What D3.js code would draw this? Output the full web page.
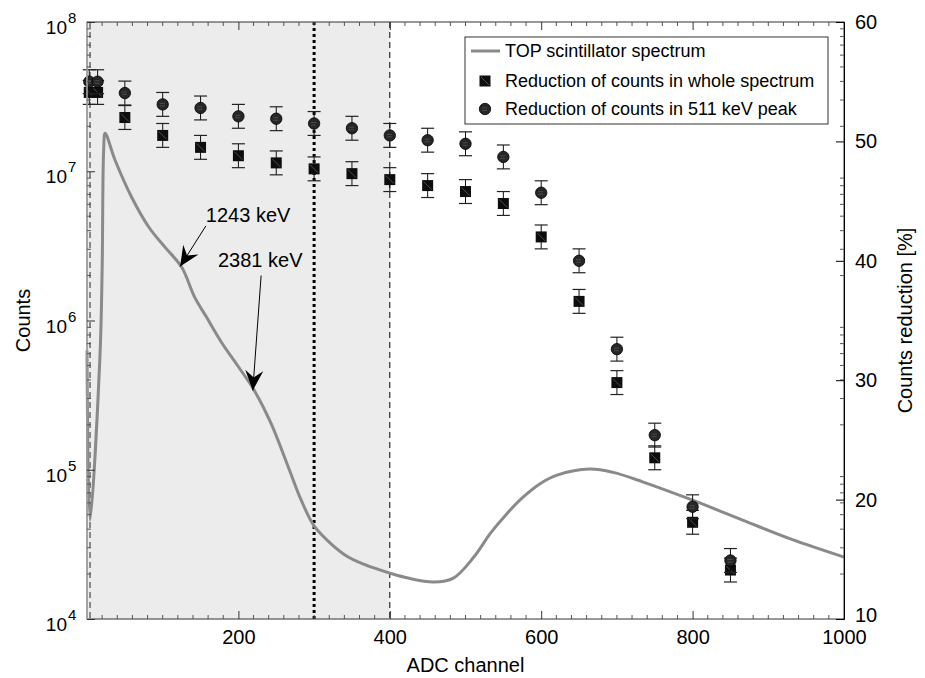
<!DOCTYPE html>
<html>
<head>
<meta charset="utf-8">
<script src="https://cdn.jsdelivr.net/npm/d3@7"></script>
<style>
  body { margin: 0; background: #fff; }
  svg { display: block; font-family: "Liberation Sans", Arial, sans-serif; }
</style>
</head>
<body>
<svg id="chart"></svg>
<script>
// TOP scintillator spectrum (ADC channel, counts)
const spectrumChannel = [0, 4, 17, 20, 22, 24, 37, 59, 82, 103, 125, 142, 158, 178, 200, 221, 243, 266, 283, 300,
    322, 345, 362, 379, 400, 424, 458, 484, 511, 533, 555, 576, 599, 621, 664, 695, 734, 800, 866, 932, 1000];
const spectrumCounts = [6.3e5, 4.6e4, 5.6e5, 2.2e6, 1.38e7, 1.8e7, 1.19e7, 6.7e6, 4.2e6, 3.1e6, 2.28e6, 1.44e6, 1.05e6,
    7.1e5, 4.9e5, 3.4e5, 2.05e5, 1.04e5, 6.25e4, 4.2e4, 3.2e4, 2.6e4, 2.37e4, 2.2e4, 2.03e4, 1.88e4, 1.77e4, 1.88e4,
    2.6e4, 3.76e4, 5.1e4, 6.55e4, 8.1e4, 9.2e4, 1.01e5, 9.6e4, 8.3e4, 6.25e4, 4.6e4, 3.4e4, 2.6e4];

// counts reduction [%] vs threshold channel
const thresholdChannel = [3, 14, 50, 100, 150, 200, 250, 300, 350, 400, 450, 500, 550, 600, 650, 700, 750, 800, 850];
const wholeReduction = [54.1, 54.1, 52.0, 50.5, 49.5, 48.8, 48.2, 47.7, 47.3, 46.8, 46.3, 45.8, 44.8, 42.0, 36.6, 29.8, 23.5, 18.1, 14.1];
const peakReduction = [55.0, 55.0, 54.05, 53.1, 52.8, 52.1, 51.9, 51.5, 51.1, 50.5, 50.1, 49.8, 48.7, 45.7, 40.0, 32.6, 25.4, 19.4, 14.9];
const reductionError = 1.0;

const xTicks = [200, 400, 600, 800, 1000];
const leftTicks = [1e4, 1e5, 1e6, 1e7, 1e8];
const rightTicks = [10, 20, 30, 40, 50, 60];
const legendLabels = ["TOP scintillator spectrum", "Reduction of counts in whole spectrum", "Reduction of counts in 511 keV peak"];

const W = 925, H = 678;
const pLeft = 87, pRight = 844, pTop = 22, pBottom = 619;
const font = 20;

const svg = d3.select("#chart").attr("width", W).attr("height", H);

const x = d3.scaleLinear().domain([0, 1000]).range([pLeft, pRight]);
const yL = d3.scaleLog().domain([1e4, 1e8]).range([pBottom, pTop]);
const yR = d3.scaleLinear().domain([10, 60]).range([pBottom, pTop]);

// shaded region and marker lines
svg.append("rect")
    .attr("x", x(0)).attr("y", pTop)
    .attr("width", x(400) - x(0)).attr("height", pBottom - pTop)
    .attr("fill", "#ececec");

svg.append("line")
    .attr("x1", x(4)).attr("x2", x(4)).attr("y1", pTop).attr("y2", pBottom)
    .attr("stroke", "#6a6a6a").attr("stroke-width", 1.5).attr("stroke-dasharray", "6,4");
svg.append("line")
    .attr("x1", x(400)).attr("x2", x(400)).attr("y1", pTop).attr("y2", pBottom)
    .attr("stroke", "#000").attr("stroke-width", 1).attr("stroke-dasharray", "6,4");
svg.append("line")
    .attr("x1", x(300)).attr("x2", x(300)).attr("y1", pTop).attr("y2", pBottom)
    .attr("stroke", "#000").attr("stroke-width", 3).attr("stroke-dasharray", "3,3");

// spectrum curve
const spectrum = spectrumChannel.map((c, i) => ({ c, v: spectrumCounts[i] }));
svg.append("path")
    .datum(spectrum)
    .attr("fill", "none")
    .attr("stroke", "#8a8a8a")
    .attr("stroke-width", 3)
    .attr("stroke-linejoin", "round")
    .attr("d", d3.line().x(d => x(d.c)).y(d => yL(d.v)).curve(d3.curveCatmullRom.alpha(0.5)));

// error bars + markers
function drawMarker(g, shape, cx, cy) {
    if (shape === "square") {
        g.append("rect").attr("x", cx - 5.5).attr("y", cy - 5.5).attr("width", 11).attr("height", 11)
            .attr("fill", "#0d0d0d");
        g.append("line").attr("x1", cx - 4).attr("y1", cy - 4).attr("x2", cx + 4).attr("y2", cy + 4)
            .attr("stroke", "#777").attr("stroke-width", 0.6);
    } else {
        g.append("circle").attr("cx", cx).attr("cy", cy).attr("r", 5.7)
            .attr("fill", "#262626").attr("stroke", "#000").attr("stroke-width", 0.8);
        g.append("line").attr("x1", cx - 3).attr("y1", cy - 1).attr("x2", cx + 2).attr("y2", cy - 1)
            .attr("stroke", "#666").attr("stroke-width", 0.6);
        g.append("line").attr("x1", cx - 3).attr("y1", cy + 1.5).attr("x2", cx + 2).attr("y2", cy + 1.5)
            .attr("stroke", "#666").attr("stroke-width", 0.6);
    }
}

function drawSeries(values, shape) {
    const g = svg.append("g");
    thresholdChannel.forEach((c, i) => {
        const cx = x(c), v = values[i];
        const y0 = yR(v - reductionError), y1 = yR(v + reductionError);
        g.append("line").attr("x1", cx).attr("x2", cx).attr("y1", y0).attr("y2", y1)
            .attr("stroke", "#111").attr("stroke-width", 1);
        [y0, y1].forEach(yy => g.append("line")
            .attr("x1", cx - 6.5).attr("x2", cx + 6.5).attr("y1", yy).attr("y2", yy)
            .attr("stroke", "#222").attr("stroke-width", 1.2));
        drawMarker(g, shape, cx, yR(v));
    });
}

drawSeries(wholeReduction, "square");
drawSeries(peakReduction, "circle");

// annotations with arrows
const annotations = [
    { label: "1243 keV", tx: 157, ty: 4.6e6, from: [157, 4.3e6], to: [123, 2.3e6] },
    { label: "2381 keV", tx: 173, ty: 2.3e6, from: [230, 2.0e6], to: [219, 3.4e5] }
];

annotations.forEach(a => {
    const fx = x(a.from[0]), fy = yL(a.from[1]);
    const tx = x(a.to[0]), ty = yL(a.to[1]);
    svg.append("line").attr("x1", fx).attr("y1", fy).attr("x2", tx).attr("y2", ty)
        .attr("stroke", "#000").attr("stroke-width", 1);
    const ang = Math.atan2(ty - fy, tx - fx) * 180 / Math.PI;
    svg.append("path")
        .attr("d", "M0,0 L-20,-9 L-13,0 L-20,9 Z")
        .attr("transform", `translate(${tx},${ty}) rotate(${ang})`)
        .attr("fill", "#000");
    svg.append("text").attr("x", x(a.tx)).attr("y", yL(a.ty))
        .style("font-size", font + "px").text(a.label);
});

// axes box
svg.append("rect").attr("x", pLeft).attr("y", pTop).attr("width", pRight - pLeft).attr("height", pBottom - pTop)
    .attr("fill", "none").attr("stroke", "#333").attr("stroke-width", 1);
svg.append("line").attr("x1", pLeft).attr("x2", pLeft).attr("y1", pTop).attr("y2", pBottom)
    .attr("stroke", "#aaa").attr("stroke-width", 1.5);

// x axis
const xAxis = svg.append("g").attr("transform", `translate(0,${pBottom})`)
    .call(d3.axisBottom(x).tickValues(xTicks).tickSize(-8).tickPadding(11).tickFormat(d3.format("d")));
xAxis.select(".domain").remove();
xAxis.selectAll("line").attr("stroke", "#333");
xAxis.selectAll("text").style("font-size", font + "px").style("font-family", "Liberation Sans, Arial, sans-serif").attr("fill", "#000");

const xTopAxis = svg.append("g").attr("transform", `translate(0,${pTop})`)
    .call(d3.axisTop(x).tickValues(xTicks).tickSize(-8).tickFormat(""));
xTopAxis.select(".domain").remove();
xTopAxis.selectAll("line").attr("stroke", "#333");

const xMinor = d3.range(20, 1000, 20).filter(d => d % 200 !== 0);
xMinor.forEach(d => {
    svg.append("line").attr("x1", x(d)).attr("x2", x(d)).attr("y1", pBottom).attr("y2", pBottom - 4).attr("stroke", "#555");
    svg.append("line").attr("x1", x(d)).attr("x2", x(d)).attr("y1", pTop).attr("y2", pTop + 4).attr("stroke", "#555");
});

// left log axis
const yAxis = svg.append("g").attr("transform", `translate(${pLeft},0)`)
    .call(d3.axisLeft(yL).tickValues(leftTicks).tickSize(-8).tickFormat(""));
yAxis.select(".domain").remove();
yAxis.selectAll("line").attr("stroke", "#333");

leftTicks.forEach(t => {
    svg.append("text").attr("x", 67).attr("y", yL(t) + 12)
        .attr("text-anchor", "end").style("font-size", "19px").text("10");
    svg.append("text").attr("x", 68).attr("y", yL(t) + 1)
        .style("font-size", "15px").text(Math.round(Math.log10(t)));
});

const logMinor = [];
[1e4, 1e5, 1e6, 1e7].forEach(dec => d3.range(2, 10).forEach(k => logMinor.push(dec * k)));
logMinor.forEach(v => {
    svg.append("line").attr("x1", pLeft).attr("x2", pLeft + 4).attr("y1", yL(v)).attr("y2", yL(v)).attr("stroke", "#555");
    svg.append("line").attr("x1", pRight).attr("x2", pRight - 4).attr("y1", yL(v)).attr("y2", yL(v)).attr("stroke", "#555");
});

// right linear axis
const yAxisR = svg.append("g").attr("transform", `translate(${pRight},0)`)
    .call(d3.axisRight(yR).tickValues(rightTicks).tickSize(-8).tickPadding(11));
yAxisR.select(".domain").attr("stroke", "#000");
yAxisR.selectAll("line").attr("stroke", "#000");
yAxisR.selectAll("text").style("font-size", font + "px").style("font-family", "Liberation Sans, Arial, sans-serif").attr("fill", "#000");
yAxisR.selectAll(".tick").filter(d => d === 10).select("text").attr("dy", "0.1em");

// axis titles
svg.append("text").attr("x", (pLeft + pRight) / 2).attr("y", 672)
    .attr("text-anchor", "middle").style("font-size", font + "px").text("ADC channel");
svg.append("text").attr("transform", `translate(30,${(pTop + pBottom) / 2}) rotate(-90)`)
    .attr("text-anchor", "middle").style("font-size", font + "px").text("Counts");
svg.append("text").attr("transform", `translate(912,${(pTop + pBottom) / 2}) rotate(-90)`)
    .attr("text-anchor", "middle").style("font-size", font + "px").text("Counts reduction [%]");

// legend
const legend = svg.append("g");
legend.append("rect").attr("x", 465).attr("y", 37).attr("width", 363).attr("height", 87)
    .attr("fill", "#fff").attr("stroke", "#333").attr("stroke-width", 1);
const rowBase = [57, 87, 115];
legend.append("line").attr("x1", 471).attr("x2", 500).attr("y1", rowBase[0] - 6).attr("y2", rowBase[0] - 6)
    .attr("stroke", "#8a8a8a").attr("stroke-width", 3);
drawMarker(legend, "square", 485, rowBase[1] - 6);
drawMarker(legend, "circle", 485, rowBase[2] - 6);
legendLabels.forEach((t, i) => {
    legend.append("text").attr("x", 505).attr("y", rowBase[i]).style("font-size", "18px").text(t);
});
</script>
</body>
</html>
